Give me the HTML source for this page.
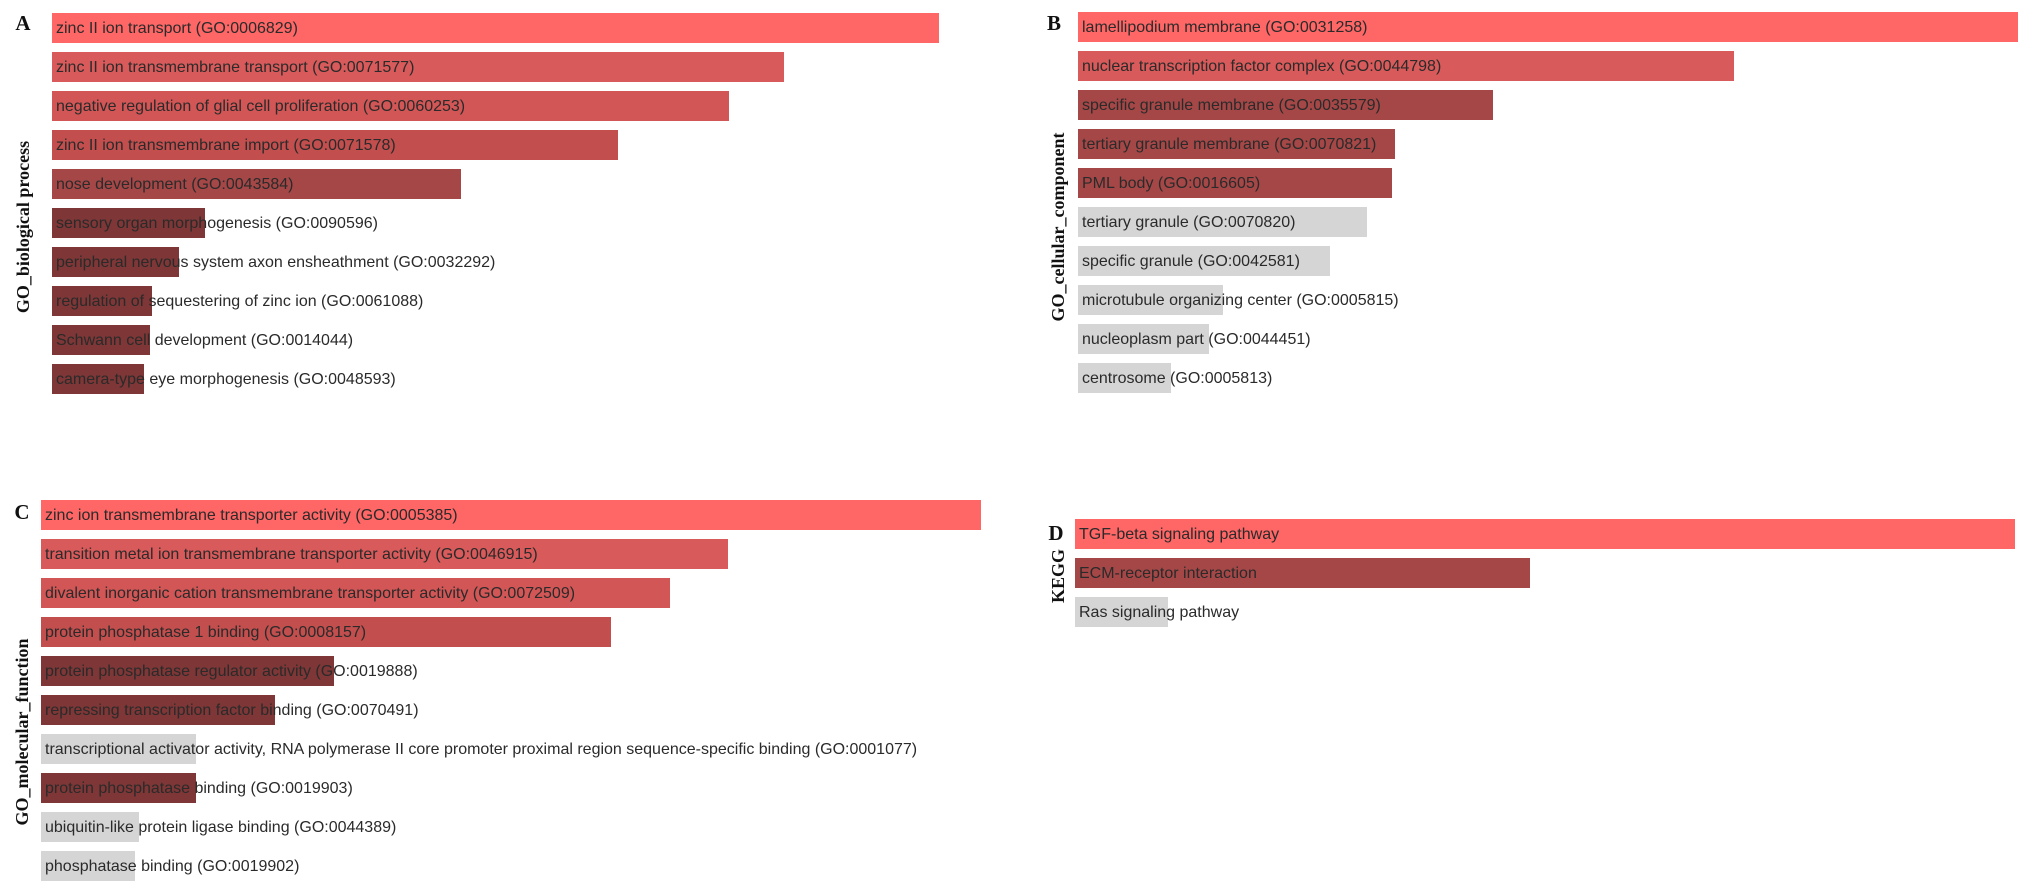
<!DOCTYPE html>
<html><head><meta charset="utf-8"><style>
html,body{margin:0;padding:0;background:#fff;width:2031px;height:892px;overflow:hidden}
svg{display:block}
.lbl{font-family:"Liberation Sans",Arial,sans-serif;font-size:16px;fill:#2a2a2a}
.ttl{font-family:"Liberation Serif",serif;font-weight:bold;font-size:18px;fill:#111}
.let{font-family:"Liberation Serif",serif;font-weight:bold;font-size:21px;fill:#111}
</style></head><body>
<svg id="chart" width="2031" height="892"></svg>
<script>
// Panel A
const catsA = ["zinc II ion transport (GO:0006829)","zinc II ion transmembrane transport (GO:0071577)","negative regulation of glial cell proliferation (GO:0060253)","zinc II ion transmembrane import (GO:0071578)","nose development (GO:0043584)","sensory organ morphogenesis (GO:0090596)","peripheral nervous system axon ensheathment (GO:0032292)","regulation of sequestering of zinc ion (GO:0061088)","Schwann cell development (GO:0014044)","camera-type eye morphogenesis (GO:0048593)"];
const valsA = [887,732,677,566,409,153,127,100,98,92];
const shadeA = [0,1,2,3,4,5,5,5,5,5];
// Panel B
const catsB = ["lamellipodium membrane (GO:0031258)","nuclear transcription factor complex (GO:0044798)","specific granule membrane (GO:0035579)","tertiary granule membrane (GO:0070821)","PML body (GO:0016605)","tertiary granule (GO:0070820)","specific granule (GO:0042581)","microtubule organizing center (GO:0005815)","nucleoplasm part (GO:0044451)","centrosome (GO:0005813)"];
const valsB = [940,656,415,317,314,289,252,145,131,93];
const shadeB = [0,1,4,4,4,9,9,9,9,9];
// Panel C
const catsC = ["zinc ion transmembrane transporter activity (GO:0005385)","transition metal ion transmembrane transporter activity (GO:0046915)","divalent inorganic cation transmembrane transporter activity (GO:0072509)","protein phosphatase 1 binding (GO:0008157)","protein phosphatase regulator activity (GO:0019888)","repressing transcription factor binding (GO:0070491)","transcriptional activator activity, RNA polymerase II core promoter proximal region sequence-specific binding (GO:0001077)","protein phosphatase binding (GO:0019903)","ubiquitin-like protein ligase binding (GO:0044389)","phosphatase binding (GO:0019902)"];
const valsC = [940,687,629,570,293,234,155,155,98,94];
const shadeC = [0,1,2,3,5,5,9,5,9,9];
// Panel D
const catsD = ["TGF-beta signaling pathway","ECM-receptor interaction","Ras signaling pathway"];
const valsD = [940,455,93];
const shadeD = [0,4,9];

const palette = {0:"#ff6666",1:"#d95a5a",2:"#d35656",3:"#c34e4e",4:"#a64747",5:"#7e3636",9:"#d5d5d5"};
const NS = "http://www.w3.org/2000/svg";
const svg = document.getElementById("chart");

function mk(tag, attrs, parent){
  const e = document.createElementNS(NS, tag);
  for (const k in attrs) e.setAttribute(k, attrs[k]);
  (parent||svg).appendChild(e);
  return e;
}

function panel(key, cats, vals, shades, x0, y0, unit, letter, lx, ly, title, tx, ty){
  const g = mk("g", {});
  
  
  const xScale = v => v * unit;
  const yScale = i => y0 + i * 39;
  cats.forEach((c, i) => {
    const r = mk("rect", {x:x0, y:yScale(i), width:xScale(vals[i]), height:30, fill:palette[shades[i]]}, g);
    
    
    const t = mk("text", {x:x0+4, y:yScale(i)+20, class:"lbl"}, g);
    t.textContent = c;
    
    
  });
  const L = mk("text", {x:lx, y:ly, class:"let", "text-anchor":"middle"}, g);
  L.textContent = letter;
  
  
  const T = mk("text", {x:tx, y:ty, class:"ttl", "text-anchor":"middle", transform:"rotate(-90 "+tx+" "+ty+")"}, g);
  T.textContent = title;
  
  
}

panel("a", catsA, valsA, shadeA, 52, 13, 1, "A", 23, 30, "GO_biological process", 29, 227);
panel("b", catsB, valsB, shadeB, 1078, 12, 1, "B", 1054, 30, "GO_cellular_component", 1064, 227);
panel("c", catsC, valsC, shadeC, 41, 500, 1, "C", 22, 519, "GO_molecular_function", 28, 732);
panel("d", catsD, valsD, shadeD, 1075, 519, 1, "D", 1056, 540, "KEGG", 1064, 576);
</script>
</body></html>
